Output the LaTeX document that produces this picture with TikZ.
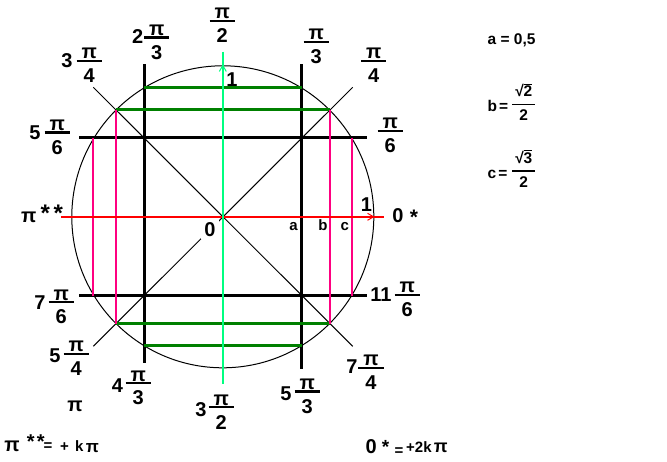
\documentclass[tikz,border=0pt]{standalone}
\usepackage{fontspec}
\setmainfont{Liberation Sans}
\usetikzlibrary{arrows.meta}
\definecolor{lgreen}{RGB}{0,255,128}
\definecolor{dgreen}{RGB}{0,128,0}
\definecolor{mag}{RGB}{255,0,128}
\newcommand\bigf{\fontsize{20}{23}\selectfont\bfseries}
\newcommand\midf{\fontsize{15}{18}\selectfont\bfseries}
\newcommand\smf{\fontsize{15.5}{18}\selectfont\bfseries}
\newcommand\starf[1]{\fontsize{#1}{#1}\selectfont\bfseries}
\newcommand\fr[2]{\vbox{\offinterlineskip\halign{\hskip5pt\hfil##\hfil\hskip5pt\cr\rule[-1pt]{0pt}{12pt}#1\cr\noalign{\hrule height 2.3pt}\rule{0pt}{20.6pt}#2\cr}}}
\newcommand\sfr[2]{\vbox{\offinterlineskip\halign{\hskip3.3pt\hfil##\hfil\hskip3.3pt\cr\rule[-6.9pt]{0pt}{21.4pt}#1\cr\noalign{\hrule height 1.4pt}\rule{0pt}{15.7pt}#2\cr}}}
\newcommand\rt[1]{\mbox{√}\kern-0.4pt\vbox{\hrule height 1pt\kern1.2pt\hbox{#1}}}
\begin{document}
\begin{tikzpicture}[x=1pt,y=-1pt,
  fine/.style={line width=1pt, black},
  blk/.style={line width=3pt, black},
  dgr/.style={line width=3pt, dgreen},
  mgt/.style={line width=2.3pt, mag},
  redl/.style={line width=2pt, red},
  lgr/.style={line width=2.5pt, lgreen},
  lab/.style={inner sep=0pt, font=\bigf},
  fracn/.style={inner sep=0pt, font=\bigf},
  abc/.style={inner sep=0pt, font=\midf, anchor=base},
  rcol/.style={inner sep=0pt, font=\smf},
]
\useasboundingbox (0,0) rectangle (667,462);
\fill[white] (0,0) rectangle (667,462);
% coordinates
\coordinate (O) at (222.8,216.8);
\coordinate (d1a) at (93.3,87.3);   \coordinate (d1b) at (352.7,346.3);
\coordinate (d2a) at (352.7,87.3);  \coordinate (d2b) at (93.3,346.3);
\coordinate (h1l) at (79,138);      \coordinate (h1r) at (366.7,138);
\coordinate (h2l) at (79,295.7);    \coordinate (h2r) at (366.7,295.7);
\coordinate (v1t) at (144,64.3);    \coordinate (v1b) at (144,363.3);
\coordinate (v2t) at (301.7,64.3);  \coordinate (v2b) at (301.7,369.3);
\coordinate (g1l) at (144,87.7);    \coordinate (g1r) at (301.7,87.7);
\coordinate (g2l) at (116,109.7);   \coordinate (g2r) at (330,109.7);
\coordinate (g3l) at (116,324);     \coordinate (g3r) at (330,324);
\coordinate (g4l) at (144,345.7);   \coordinate (g4r) at (301.7,345.7);
\coordinate (m1t) at (93.3,138);    \coordinate (m1b) at (93.3,295.7);
\coordinate (m2t) at (116,109.7);   \coordinate (m2b) at (116,324);
\coordinate (m3t) at (330,109.7);   \coordinate (m3b) at (330,324);
\coordinate (m4t) at (352.3,138);   \coordinate (m4b) at (352.3,295.7);
\coordinate (rl) at (61,216.8);     \coordinate (rr) at (384.3,216.8);
\coordinate (ra) at (373.5,216.8);
\coordinate (gt) at (222.8,51.7);   \coordinate (gb) at (222.8,384.3);
\coordinate (ga) at (222.8,65.5);
% circle and diagonals
\draw[fine] (O) circle[radius=151];
\draw[fine] (d1a) -- (d1b);
\draw[fine] (d2a) -- (d2b);
\node[lab, fill=white, minimum width=18pt, minimum height=19pt] (zero) at (210,230) {0};
% black lines
\draw[blk] (h1l) -- (h1r);
\draw[blk] (h2l) -- (h2r);
\draw[blk] (v1t) -- (v1b);
\draw[blk] (v2t) -- (v2b);
% dark green
\draw[dgr] (g1l) -- (g1r);
\draw[dgr] (g2l) -- (g2r);
\draw[dgr] (g3l) -- (g3r);
\draw[dgr] (g4l) -- (g4r);
% magenta
\draw[mgt] (m1t) -- (m1b);
\draw[mgt] (m2t) -- (m2b);
\draw[mgt] (m3t) -- (m3b);
\draw[mgt] (m4t) -- (m4b);
% axes
\draw[redl] (rl) -- (rr);
\draw[red, line width=1pt] ([shift={(-6,-3.5)}]ra) -- (ra) -- ([shift={(-6,3.5)}]ra);
\draw[lgr] (gt) -- (gb);
\draw[lgreen, line width=1pt] ([shift={(-3.5,6)}]ga) -- (ga) -- ([shift={(3.5,6)}]ga);
% angle labels
\node[fracn] (f12) at (222.2,25) {\fr{π}{2}};
\node[lab] (n23) at (137.7,36.8) {2};  \node[fracn] (f23) at (156.7,42) {\fr{π}{3}};
\node[lab] (n34) at (67,60.5) {3};     \node[fracn] (f34) at (89.3,65) {\fr{π}{4}};
\node[lab] (n56) at (35,132.7) {5};    \node[fracn] (f56) at (57.2,137) {\fr{π}{6}};
\node[fracn] (f13) at (316.3,46.3) {\fr{π}{3}};
\node[fracn] (f14) at (373.7,65.3) {\fr{π}{4}};
\node[fracn] (f16) at (390.3,135.3) {\fr{π}{6}};
\node[lab] (n76) at (40,303) {7};      \node[fracn] (f76) at (61.3,306.6) {\fr{π}{6}};
\node[lab] (n116) at (381,295) {11};   \node[fracn] (f116) at (407.2,299.3) {\fr{π}{6}};
\node[lab] (n54) at (55,355.3) {5};    \node[fracn] (f54) at (76.2,358.3) {\fr{π}{4}};
\node[lab] (n43) at (117.5,386) {4};   \node[fracn] (f43) at (138.3,387.6) {\fr{π}{3}};
\node[lab] (n32) at (201,410) {3};     \node[fracn] (f32) at (221.3,411.6) {\fr{π}{2}};
\node[lab] (n53) at (286,393.8) {5};   \node[fracn] (f53) at (307.3,396) {\fr{π}{3}};
\node[lab] (n74) at (352,366.7) {7};   \node[fracn] (f74) at (371,372) {\fr{π}{4}};
% unit marks
\node[lab] (oneT) at (232,80) {1};
\node[lab] (oneR) at (366.5,204.5) {1};
% pi ** and 0 *
\node[lab, anchor=base] (piL) at (28.8,222.7) {π};
\node[inner sep=0pt, font=\starf{24}, anchor=base] (stA) at (45.3,221.4) {*};
\node[inner sep=0pt, font=\starf{24}, anchor=base] (stB) at (58.3,221.4) {*};
\node[lab] (zeroR) at (398,216) {0};
\node[inner sep=0pt, font=\starf{21}, anchor=base] (stR) at (414,224.4) {*};
% a b c
\node[abc] (la) at (293.5,231) {a};
\node[abc] (lb) at (323,231) {b};
\node[abc] (lc) at (344.8,231) {c};
% lone pi
\node[lab, anchor=base] (piB) at (75,411.7) {π};
% bottom-left formula
\node[lab, anchor=base] (bpi) at (12,451.7) {π};
\node[inner sep=0pt, font=\starf{20}, anchor=base] (bs1) at (30.8,448.3) {*};
\node[inner sep=0pt, font=\starf{20}, anchor=base] (bs2) at (40.8,448.3) {*};
\node[abc] (beq) at (48,450.8) {=};
\node[abc] (bplus) at (64.5,451.3) {+};
\node[abc] (bk) at (79.2,451.7) {k};
\node[inner sep=0pt, font=\starf{17}, anchor=base] (bpi2) at (92.5,452.3) {π};
% bottom-right formula
\node[lab] (rz) at (371.3,447) {0};
\node[inner sep=0pt, font=\starf{19}, anchor=base] (rs) at (385.5,453.5) {*};
\node[abc] (req) at (399,455) {=};
\node[abc, anchor=base west] (r2k) at (406,452.3) {+2k};
\node[inner sep=0pt, font=\starf{18}, anchor=base] (rpi) at (440.8,452.3) {π};
% right column
\node[rcol, anchor=base west] (ca) at (487.5,45) {a = 0,5};
\node[rcol, anchor=base west] (cb) at (487.5,111.7) {b\kern2pt=};
\node[rcol] (cbf) at (523.8,101.45) {\sfr{\rt{2}}{2}};
\node[rcol, anchor=base west] (cc) at (487.5,178.4) {c\kern2pt=};
\node[rcol] (ccf) at (523.8,168.15) {\sfr{\rt{3}}{2}};
\end{tikzpicture}
\end{document}
